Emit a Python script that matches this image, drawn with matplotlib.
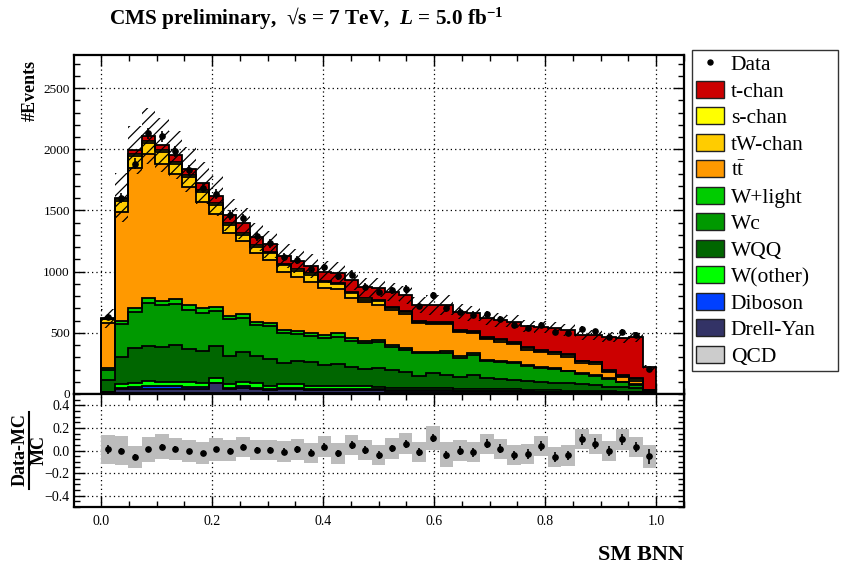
import numpy as np
import matplotlib
matplotlib.use('Agg')
import matplotlib.pyplot as plt
from matplotlib.lines import Line2D
from matplotlib.patches import Patch
from matplotlib.ticker import MultipleLocator

plt.rcParams['font.family'] = ['Liberation Serif', 'DejaVu Serif']
plt.rcParams['mathtext.fontset'] = 'custom'
plt.rcParams['mathtext.rm'] = 'Liberation Serif:bold'
plt.rcParams['mathtext.it'] = 'Liberation Serif:italic:bold'
plt.rcParams['mathtext.bf'] = 'Liberation Serif:bold'
plt.rcParams['hatch.linewidth'] = 0.9

# 41 bins in SM BNN output, 0..1
n_bins = 41
edges = np.linspace(0.0, 1.0, n_bins + 1)
centers = 0.5 * (edges[1:] + edges[:-1])

# stack components (events per bin), bottom to top
qcd = [8, 12, 12, 12, 12, 12, 12, 12, 12, 10, 10, 10, 10, 10, 10, 10, 10, 10, 10, 10, 9,
       8, 8, 8, 8, 8, 8, 8, 7, 7, 7, 6, 6, 6, 6, 5, 5, 5, 4, 4, 2]
drell_yan = [6, 28, 30, 32, 32, 30, 30, 30, 75, 28, 40, 30, 25, 30, 30, 25, 25, 25, 25, 25, 24,
             17, 17, 17, 17, 17, 16, 16, 15, 15, 14, 12, 11, 11, 10, 10, 10, 8, 8, 7, 2]
diboson = [3, 12, 18, 22, 20, 20, 18, 16, 6, 12, 12, 12, 8, 9, 9, 8, 8, 8, 8, 8, 7,
           5, 5, 5, 5, 5, 4, 4, 4, 4, 4, 3, 3, 3, 3, 3, 2, 2, 2, 2, 1]
w_other = [3, 28, 33, 40, 36, 38, 35, 32, 35, 30, 39, 35, 22, 30, 30, 22, 22, 22, 22, 22, 20,
           15, 15, 15, 15, 15, 14, 14, 14, 14, 13, 11, 10, 10, 9, 8, 8, 7, 6, 5, 1]
wqq = [94, 225, 280, 289, 287, 298, 270, 261, 264, 230, 245, 223, 218, 172, 193, 199, 169, 180, 153, 136, 150,
       151, 137, 102, 124, 110, 100, 113, 88, 80, 76, 77, 71, 63, 59, 53, 49, 38, 34, 28, 10]
wc = [82, 264, 294, 351, 337, 337, 321, 313, 289, 300, 278, 254, 275, 245, 218, 210, 226, 223, 218, 213, 215,
      189, 178, 186, 164, 183, 156, 165, 140, 142, 140, 119, 109, 109, 97, 83, 74, 61, 41, 31, 6]
w_light = [14, 30, 38, 36, 36, 38, 38, 36, 32, 30, 27, 24, 25, 27, 25, 27, 22, 28, 24, 19, 16,
           15, 13, 13, 13, 13, 12, 12, 10, 10, 10, 9, 8, 8, 7, 7, 7, 7, 6, 5, 2]
ttbar = [373, 891, 1144, 1179, 1119, 1022, 964, 871, 758, 678, 599, 561, 512, 476, 444, 417, 388, 364, 322, 316, 286,
         286, 281, 231, 226, 221, 197, 164, 171, 156, 144, 122, 122, 117, 114, 82, 87, 54, 41, 27, 4]
tw_chan = [29, 85, 97, 94, 99, 88, 86, 81, 72, 67, 53, 56, 56, 51, 48, 56, 43, 38, 42, 21, 29,
           19, 19, 11, 11, 11, 8, 11, 11, 13, 12, 16, 13, 13, 16, 15, 16, 8, 7, 13, 3]
s_chan = [3, 15, 15, 15, 15, 15, 15, 15, 15, 15, 15, 12, 12, 12, 12, 12, 12, 12, 12, 12, 12,
          8, 8, 8, 8, 8, 8, 8, 8, 8, 8, 6, 6, 6, 6, 6, 6, 6, 6, 6, 1]
t_chan = [5, 14, 32, 38, 41, 55, 49, 54, 60, 62, 76, 63, 62, 65, 68, 60, 74, 81, 95, 89, 102,
          118, 128, 131, 136, 136, 150, 144, 150, 156, 163, 175, 186, 190, 196, 210, 218, 272, 305, 340, 186]

data = [626, 1604, 1881, 2129, 2105, 1982, 1827, 1680, 1634, 1462, 1436, 1288, 1232, 1117, 1098, 1025, 1034,
        965, 975, 876, 835, 846, 858, 718, 807, 699, 673, 649, 655, 614, 567, 539, 566, 506, 500, 530,
        511, 467, 505, 483, 207]

# relative MC uncertainty (hatched band / grey ratio band)
mc_unc = [0.125, 0.125, 0.10, 0.11, 0.11, 0.10, 0.10, 0.10, 0.10, 0.09, 0.09, 0.09, 0.09, 0.09, 0.09, 0.09,
          0.09, 0.09, 0.09, 0.09, 0.09, 0.09, 0.09, 0.09, 0.11, 0.11, 0.09, 0.09, 0.09, 0.09, 0.09, 0.09,
          0.09, 0.09, 0.09, 0.09, 0.09, 0.09, 0.09, 0.09, 0.10]

components = [qcd, drell_yan, diboson, w_other, wqq, wc, w_light, ttbar, tw_chan, s_chan, t_chan]
colors = ['#cccccc', '#333366', '#0040ff', '#00ff00', '#006600', '#009900', '#00cc00',
          '#ff9900', '#ffcc00', '#ffff00', '#cc0000']
names = ['QCD', 'Drell-Yan', 'Diboson', 'W(other)', 'WQQ', 'Wc', 'W+light',
         r'$\mathregular{t\bar{t}}$', 'tW-chan', 's-chan', 't-chan']

fig = plt.figure(figsize=(8.41, 5.67), dpi=100)
ax = fig.add_axes([74 / 841, 1 - 394 / 567, 610 / 841, 339 / 567])
rax = fig.add_axes([74 / 841, 1 - 507 / 567, 610 / 841, 113 / 567], sharex=ax)

# stack
bottom = np.zeros(n_bins)
tops = []
for vals, col in zip(components, colors):
    top = bottom + np.array(vals, dtype=float)
    ax.stairs(top, edges, baseline=bottom, fill=True, color=col, zorder=2)
    tops.append(top)
    bottom = top
for top in tops:
    ax.stairs(top, edges, baseline=0, color='k', linewidth=1.3, zorder=3)

total = bottom
unc = np.array(mc_unc)
ax.stairs(total * (1 + unc), edges, baseline=total * (1 - unc), fill=True,
          facecolor='none', edgecolor='k', hatch='///', linewidth=0, zorder=4)

data = np.array(data, dtype=float)
ax.errorbar(centers, data, yerr=np.sqrt(data), fmt='o', color='k', markersize=3.8,
            elinewidth=1.2, capsize=0, zorder=5)

# ratio
ratio = (data - total) / total
rerr = np.sqrt(data) / total
rax.stairs(ratio + unc, edges, baseline=ratio - unc, fill=True, color='#bcbcbc', zorder=2)
rax.errorbar(centers, ratio, yerr=rerr, fmt='o', color='k', markersize=3.8,
             elinewidth=1.2, capsize=0, zorder=5)

ax.set_xlim(-0.0486, 1.05)
ax.set_ylim(0, 2770)
rax.set_ylim(-0.5, 0.5)

for a in (ax, rax):
    a.set_axisbelow(True)
    a.grid(True, which='major', color='k', linestyle=(0, (1, 2.5)), linewidth=0.9)
    a.tick_params(which='both', direction='in', top=True, right=True, width=1, labelsize=9.5)
    a.tick_params(which='major', length=8)
    a.tick_params(which='minor', length=4)
    a.xaxis.set_major_locator(MultipleLocator(0.2))
    a.xaxis.set_minor_locator(MultipleLocator(0.05))
    for s in a.spines.values():
        s.set_linewidth(1.6)

ax.yaxis.set_major_locator(MultipleLocator(500))
ax.yaxis.set_minor_locator(MultipleLocator(100))
rax.yaxis.set_major_locator(MultipleLocator(0.2))
rax.yaxis.set_minor_locator(MultipleLocator(0.05))
ax.tick_params(axis='x', labelbottom=False)
ax.tick_params(axis='y', pad=3)
rax.tick_params(axis='x', pad=6, labelsize=10)
rax.tick_params(axis='y', pad=3, labelsize=10)
rax.set_xticks([0.0, 0.2, 0.4, 0.6, 0.8, 1.0])
rax.set_xticklabels(['0.0', '0.2', '0.4', '0.6', '0.8', '1.0'])

# labels
fig.text(109 / 841, 1 - 24 / 567,
         r'CMS preliminary,  √s = 7 TeV,  $\mathit{L}$ = 5.0 fb$^{\mathrm{-1}}$',
         fontsize=15.3, fontweight='bold', ha='left', va='baseline')
fig.text(30 / 841, 1 - 60 / 567, '#Events', rotation=90, ha='center', va='top',
         fontsize=13, fontweight='bold')
fig.text(684 / 841, 1 - 560 / 567, 'SM BNN', ha='right', va='baseline',
         fontsize=16, fontweight='bold')
fig.text(20 / 841, 1 - 450 / 567, 'Data-MC', rotation=90, ha='center', va='center',
         fontsize=13, fontweight='bold')
fig.text(39 / 841, 1 - 450 / 567, 'MC', rotation=90, ha='center', va='center',
         fontsize=13, fontweight='bold')
fig.add_artist(Line2D([29 / 841, 29 / 841], [1 - 412 / 567, 1 - 489 / 567],
                      color='k', linewidth=1.5, transform=fig.transFigure))

# legend
handles = [Line2D([], [], marker='o', color='k', linestyle='none', markersize=3.6)]
labels = ['Data']
for col, nm in zip(colors[::-1], names[::-1]):
    handles.append(Patch(facecolor=col, edgecolor='#222222', linewidth=1))
    labels.append(nm)
leg = fig.legend(handles, labels, loc='upper left',
                 bbox_to_anchor=(692 / 841, 1 - 372 / 567, 146 / 841, 322 / 567),
                 mode='expand', frameon=True, fancybox=False, edgecolor='k',
                 fontsize=15.5, handlelength=1.3, handleheight=0.83, labelspacing=0.26,
                 borderpad=0.2, handletextpad=0.3, borderaxespad=0)
leg.get_frame().set_linewidth(1.0)

fig.savefig('out.png', dpi=100)
